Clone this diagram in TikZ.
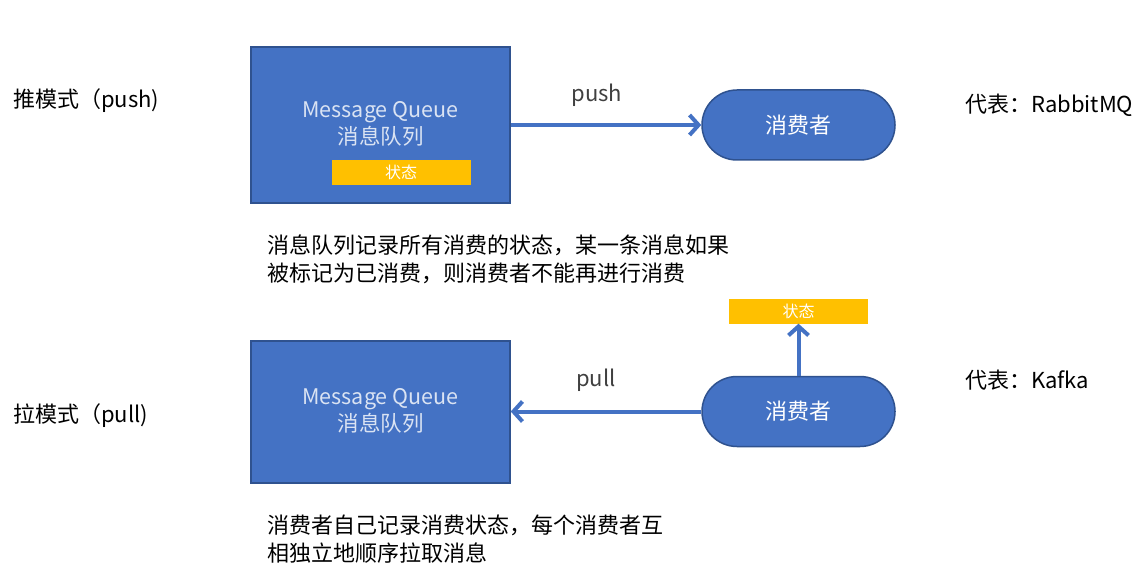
\documentclass[tikz,border=0pt]{standalone}
\usepackage{fontspec}
\setmainfont{Noto Sans CJK SC}
\usetikzlibrary{arrows.meta,shapes.misc}
\definecolor{mqblue}{HTML}{4472C4}
\definecolor{mqedge}{HTML}{2F528F}
\definecolor{mqtext}{HTML}{DAE3F3}
\definecolor{stgold}{HTML}{FFC000}
\definecolor{lblgray}{HTML}{404040}
\begin{document}
\begin{tikzpicture}[x=1pt,y=-1pt,
  mqbox/.style={draw=mqedge,line width=1.5pt,fill=mqblue,inner sep=0pt},
  mqlabel/.style={text=mqtext,align=center,inner sep=0pt,font=\fontsize{21.5}{27}\selectfont},
  consumer/.style={rounded rectangle,draw=mqedge,line width=1.5pt,fill=mqblue,text=white,minimum width=193pt,minimum height=70pt,inner sep=0pt,font=\fontsize{22}{26}\selectfont},
  statebar/.style={fill=stgold,text=white,minimum width=139pt,minimum height=25pt,inner sep=0pt,font=\fontsize{16}{18}\selectfont},
  flow/.style={draw=mqblue,line width=4pt,-{Straight Barb[length=9pt,width=20pt,line width=4pt]}},
  flowlabel/.style={text=lblgray,font=\fontsize{22}{26}\selectfont,inner sep=0pt},
  plain/.style={text=black,font=\fontsize{22}{26}\selectfont,inner sep=0pt,anchor=west},
  para/.style={text=black,font=\fontsize{22}{28}\selectfont,inner sep=0pt,anchor=north west,align=left}
]
\useasboundingbox (0,0) rectangle (1148,588);
\fill[white] (0,0) rectangle (1148,588);

% push mode
\node[mqbox,minimum width=259pt,minimum height=156pt] (mq1) at (380.5,125) {};
\node[mqlabel] (mq1t) at (380.5,124) {Message Queue\\消息队列};
\node[statebar] (st1) at (401,172.5) {状态};
\node[consumer] (c1) at (798.5,125) {消费者};
\draw[flow] (mq1.east) -- (c1.west);
\node[flowlabel] (lpush) at (597,95) {push};
\node[plain] (m1) at (13,101) {推模式（push)};
\node[plain] (r1) at (965,105) {代表：RabbitMQ};
\node[para] (p1) at (267,235) {消息队列记录所有消费的状态，某一条消息如果\\被标记为已消费，则消费者不能再进行消费};

% pull mode
\node[mqbox,minimum width=259pt,minimum height=142pt] (mq2) at (380.5,412) {};
\node[mqlabel] (mq2t) at (380.5,411) {Message Queue\\消息队列};
\node[consumer] (c2) at (798.5,411.5) {消费者};
\node[statebar] (st2) at (798.5,311) {状态};
\draw[flow] (c2.west) -- (c2.west -| mq2.east);
\draw[flow] (c2.north) -- (st2.south);
\node[flowlabel] (lpull) at (596,380) {pull};
\node[plain] (m2) at (13,416) {拉模式（pull)};
\node[plain] (r2) at (965,380) {代表：Kafka};
\node[para] (p2) at (267,515) {消费者自己记录消费状态，每个消费者互\\相独立地顺序拉取消息};
\end{tikzpicture}
\end{document}
